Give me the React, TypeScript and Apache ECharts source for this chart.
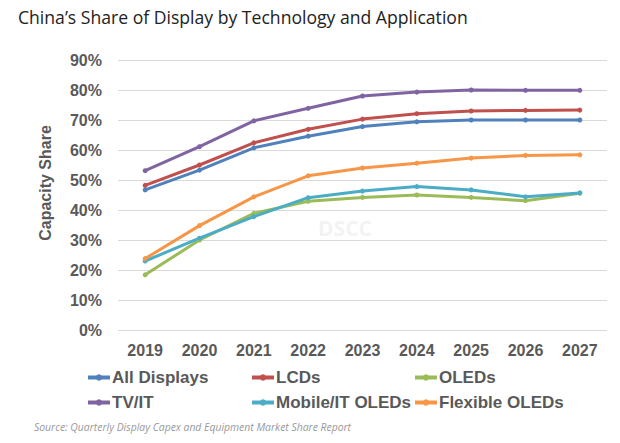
import React, { useEffect, useRef } from "react";
import * as echarts from "echarts";

const years = ["2019", "2020", "2021", "2022", "2023", "2024", "2025", "2026", "2027"];
const allDisplays = [46.7, 53.3, 60.7, 64.6, 67.8, 69.4, 70.0, 70.0, 70.0];
const lcds = [48.2, 55.0, 62.4, 66.9, 70.3, 72.1, 73.0, 73.2, 73.3];
const oleds = [18.4, 30.0, 38.9, 42.9, 44.2, 45.0, 44.2, 43.1, 45.6];
const tvIt = [53.1, 61.1, 69.7, 73.9, 78.0, 79.3, 80.0, 79.9, 79.9];
const mobileIt = [23.0, 30.6, 37.8, 44.1, 46.3, 47.8, 46.7, 44.4, 45.7];
const flexible = [23.8, 34.8, 44.4, 51.4, 54.0, 55.6, 57.3, 58.2, 58.4];

const seriesDefs = [
  { name: "All Displays", data: allDisplays, color: "#4F81BD" },
  { name: "LCDs", data: lcds, color: "#C0504D" },
  { name: "OLEDs", data: oleds, color: "#9BBB59" },
  { name: "TV/IT", data: tvIt, color: "#8064A2" },
  { name: "Mobile/IT OLEDs", data: mobileIt, color: "#4BACC6" },
  { name: "Flexible OLEDs", data: flexible, color: "#F79646" },
];

const legendCols = [
  ["All Displays", "TV/IT"],
  ["LCDs", "Mobile/IT OLEDs"],
  ["OLEDs", "Flexible OLEDs"],
];
const legendLefts = [86, 250, 413];

export default function App() {
  const ref = useRef<HTMLDivElement>(null);
  useEffect(() => {
    if (!ref.current) return;
    const chart = echarts.init(ref.current, null, { renderer: "svg" });
    const labelStyle = {
      fontFamily: "Liberation Sans, Arial, sans-serif",
      fontWeight: "bold" as const,
      fontSize: 16,
      color: "#595959",
    };
    chart.setOption({
      animation: false,
      backgroundColor: "#ffffff",
      grid: { left: 118, right: 13, top: 60, bottom: 113 },
      xAxis: {
        type: "category",
        data: years,
        boundaryGap: true,
        axisLine: { show: false },
        axisTick: { show: false },
        axisLabel: { ...labelStyle, margin: 12 },
      },
      yAxis: {
        type: "value",
        min: 0,
        max: 90,
        interval: 10,
        axisLine: { show: false },
        axisTick: { show: false },
        splitLine: { lineStyle: { color: "#d9d9d9", width: 1 } },
        axisLabel: { ...labelStyle, margin: 16, formatter: "{value}%" },
      },
      legend: legendCols.map((col, i) => ({
        orient: "vertical",
        left: legendLefts[i],
        top: 369,
        data: col,
        itemWidth: 22,
        itemHeight: 8,
        itemGap: 8,
        padding: 0,
        itemStyle: { borderWidth: 0 },
        lineStyle: { width: 4 },
        textStyle: { ...labelStyle, fontSize: 17, padding: [0, 0, 0, -3] },
      })),
      graphic: [
        {
          type: "text",
          left: 18,
          top: 8,
          style: {
            text: "China’s Share of Display by Technology and Application",
            fontFamily: "Open Sans, sans-serif",
            fontSize: 17.6,
            fill: "#222222",
          },
        },
        {
          type: "text",
          x: 45,
          y: 183,
          rotation: Math.PI / 2,
          style: {
            text: "Capacity Share",
            fontFamily: "Liberation Sans, Arial, sans-serif",
            fontWeight: "bold",
            fontSize: 16,
            fill: "#595959",
            align: "center",
            verticalAlign: "middle",
          },
        },
        {
          type: "text",
          x: 345,
          y: 228,
          z: -1,
          style: {
            text: "DSCC",
            fontFamily: "Open Sans, sans-serif",
            fontWeight: "bold",
            fontSize: 21,
            fill: "#f3f3f3",
            align: "center",
            verticalAlign: "middle",
          },
        },
        {
          type: "text",
          left: 34,
          top: 422,
          style: {
            text: "Source: Quarterly Display Capex and Equipment Market Share Report",
            fontFamily: "Open Sans, sans-serif",
            fontStyle: "italic",
            fontSize: 10.4,
            fill: "#999999",
          },
        },
      ],
      series: seriesDefs.map((s) => ({
        name: s.name,
        type: "line",
        data: s.data,
        symbol: "circle",
        symbolSize: 5,
        itemStyle: { color: s.color },
        lineStyle: { color: s.color, width: 3 },
      })),
    });
    return () => chart.dispose();
  }, []);
  return <div ref={ref} style={{ width: 620, height: 443, position: "absolute", left: 0, top: 0 }} />;
}
